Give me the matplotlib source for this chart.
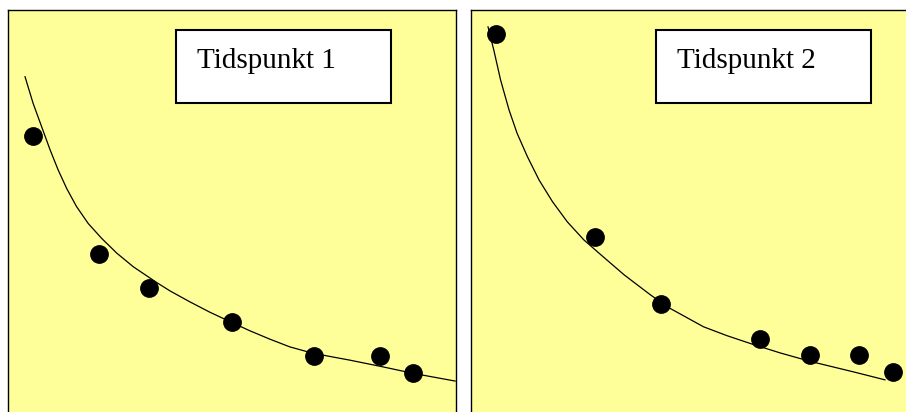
import matplotlib
matplotlib.use("Agg")
import matplotlib.pyplot as plt
from matplotlib.patches import Rectangle

# values (x, y in 0..10 panel units)
labels = ["Tidspunkt 1", "Tidspunkt 2"]

pts1_x = [0.56, 2.03, 3.14, 4.99, 6.84, 8.30, 9.05]
pts1_y = [6.87, 3.93, 3.08, 2.25, 1.40, 1.40, 0.98]
curve1_x = [0.38, 0.56, 0.75, 0.94, 1.12, 1.31, 1.53, 1.79, 2.09, 2.43,
            2.80, 3.32, 3.62, 4.06, 4.51, 4.99, 5.40, 5.85, 6.29, 6.81,
            7.34, 7.63, 8.38, 9.05, 9.98]
curve1_y = [8.34, 7.68, 7.10, 6.52, 6.02, 5.56, 5.11, 4.69, 4.32, 3.95,
            3.61, 3.22, 3.01, 2.74, 2.48, 2.23, 2.02, 1.81, 1.62, 1.46,
            1.35, 1.29, 1.12, 0.96, 0.77]

pts2_x = [0.55, 2.77, 4.24, 6.46, 7.57, 8.67, 9.41]
pts2_y = [9.40, 4.36, 2.68, 1.82, 1.41, 1.41, 1.00]
curve2_x = [0.38, 0.51, 0.66, 0.85, 1.03, 1.26, 1.52, 1.82, 2.15, 2.52,
            2.90, 3.42, 4.01, 4.44, 5.19, 5.71, 6.30, 6.90, 7.57, 8.53,
            9.24]
curve2_y = [9.58, 9.00, 8.26, 7.51, 6.93, 6.35, 5.77, 5.23, 4.73, 4.28,
            3.91, 3.41, 2.91, 2.58, 2.12, 1.90, 1.68, 1.47, 1.26, 1.00,
            0.80]

W, H = 906, 412
fig = plt.figure(figsize=(W / 100, H / 100), dpi=100)
fig.patch.set_facecolor("white")

panels = [
    (8, pts1_x, pts1_y, curve1_x, curve1_y, labels[0], 3.75, 4.22),
    (471, pts2_x, pts2_y, curve2_x, curve2_y, labels[1], 4.13, 4.60),
]

for left, px, py, cx, cy, label, box_x, text_x in panels:
    ax = fig.add_axes([left / W, 0, 448 / W, 402 / H])
    ax.set_facecolor("#FFFF99")
    ax.set_xlim(0, 10)
    ax.set_ylim(0, 10)
    ax.set_xticks([])
    ax.set_yticks([])
    ax.spines["bottom"].set_visible(False)
    for s in ["left", "top", "right"]:
        ax.spines[s].set_linewidth(1.0)
        ax.spines[s].set_color("black")

    # trend curve and observations
    ax.plot(cx, cy, color="black", lw=0.9, zorder=2)
    ax.plot(px, py, "o", color="black", ms=12.5, zorder=3)

    ax.add_patch(Rectangle((box_x, 7.69), 4.8, 1.81, facecolor="white",
                           edgecolor="black", lw=1.5, zorder=4))
    ax.text(text_x, 8.56, label, fontsize=21, family="Liberation Serif",
            va="baseline", ha="left", zorder=5)

fig.savefig("out.png", dpi=100)
